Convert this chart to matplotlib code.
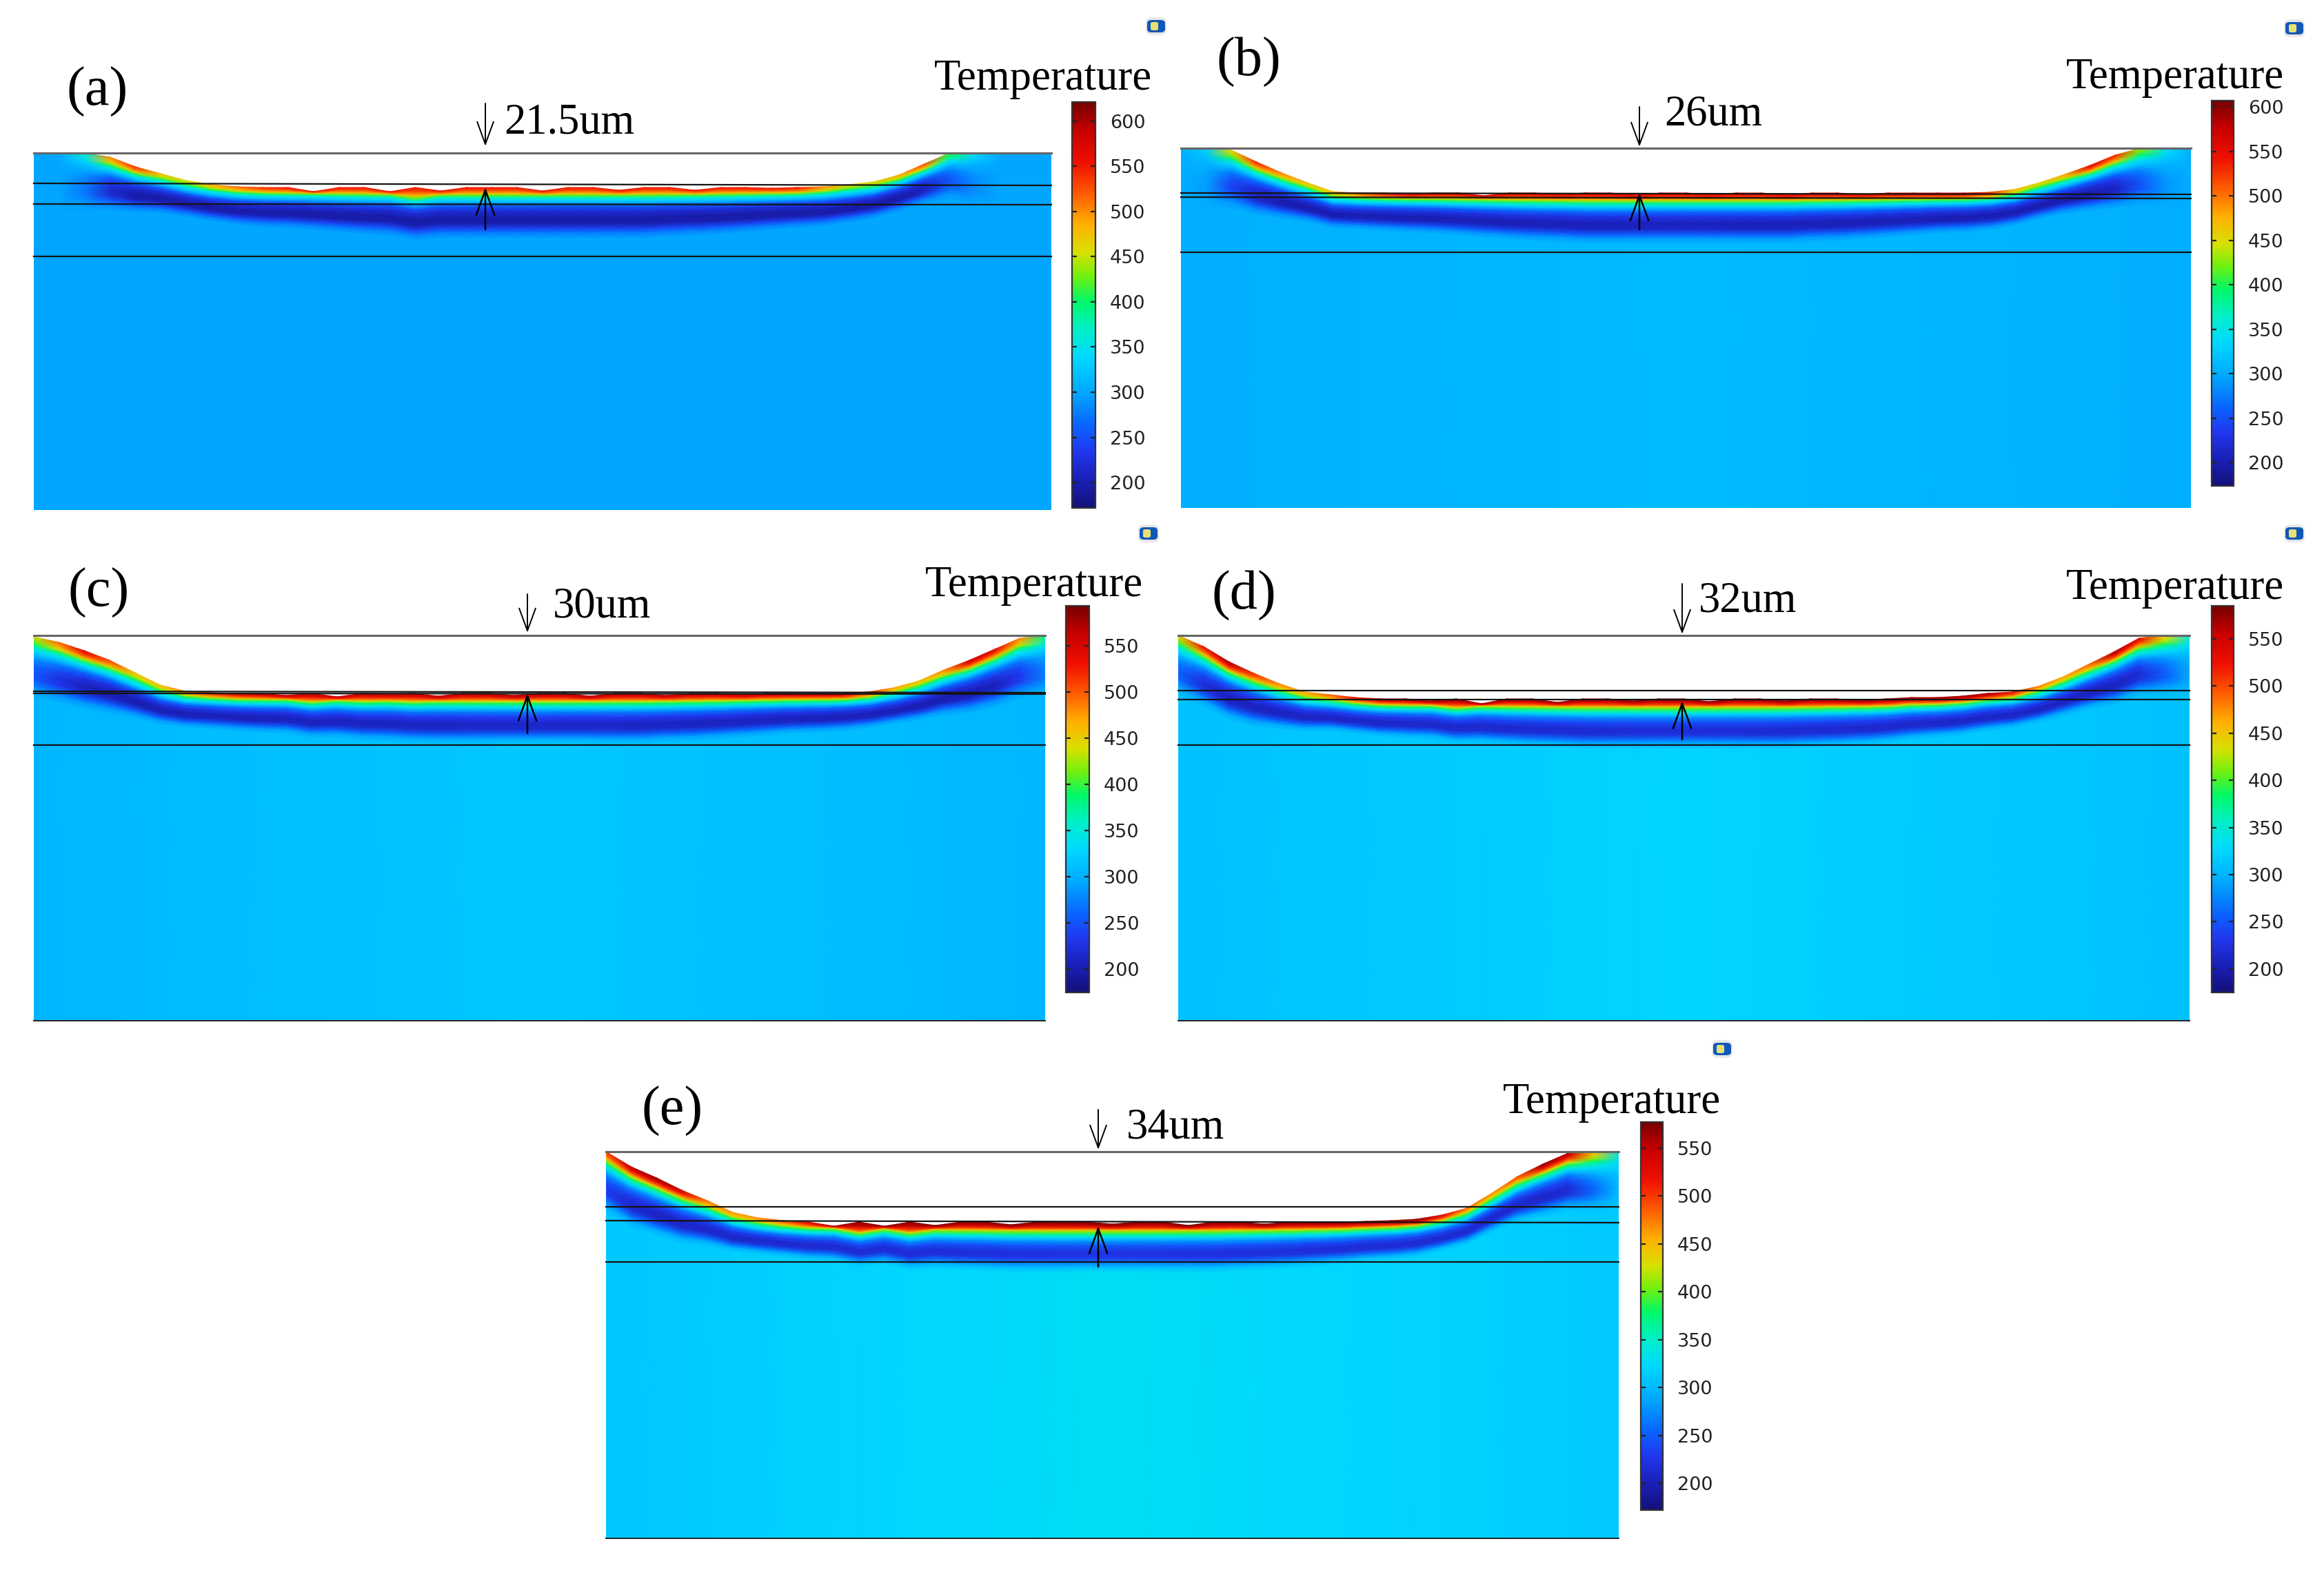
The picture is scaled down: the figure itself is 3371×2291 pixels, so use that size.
import numpy as np
import matplotlib
matplotlib.use("Agg")
import matplotlib.pyplot as plt
from matplotlib.colors import LinearSegmentedColormap, Normalize
from matplotlib.patches import FancyArrowPatch, FancyBboxPatch

W, H = 3371, 2291
plt.rcParams["font.family"] = ["Liberation Serif", "DejaVu Serif"]

# ===============================
#  Data
# ===============================

# columns across each domain, as a fraction of its width
COL_X = [i / 40 for i in range(41)]

# melted surface, depth below the top line in each column
SURF_A = [0, 0, 0, 6, 20, 30, 40, 46, 49, 50, 50, 56, 50, 50, 56, 50, 55, 50, 50, 50, 55,
          50, 50, 54, 50, 50, 54, 50, 50, 51, 50, 49, 46, 42, 32, 16, 0, 0, 0, 0, 0]
SURF_B = [0, 0, 3, 20, 36, 50, 63, 65, 65, 67, 65, 65, 69, 65, 65, 67, 65, 65, 68, 65, 65,
          67, 65, 65, 68, 65, 65, 67, 65, 65, 65, 65, 64, 60, 50, 38, 25, 10, 0, 0, 0]
SURF_C = [2, 10, 22, 36, 54, 72, 81, 83, 84, 84, 87, 84, 89, 84, 85, 84, 88, 84, 84, 87, 84,
          84, 88, 84, 84, 87, 84, 84, 86, 84, 84, 84, 84, 82, 76, 66, 50, 36, 20, 4, 0]
SURF_D = [0, 16, 38, 55, 70, 82, 86, 90, 92, 92, 95, 92, 99, 92, 92, 97, 92, 92, 95, 92, 92,
          96, 92, 92, 95, 92, 92, 94, 92, 90, 90, 88, 84, 82, 74, 60, 42, 24, 4, 0, 0]
SURF_E = [0, 22, 38, 56, 71, 88, 96, 100, 102, 108, 102, 108, 102, 107, 102, 102, 106, 102, 102, 102, 105,
          102, 102, 107, 102, 102, 105, 102, 102, 102, 101, 100, 98, 92, 82, 60, 36, 18, 2, 0, 0]

# temperature through the hot band, by depth below the surface
BAND_DEPTH = [0, 5, 9, 12, 15, 19, 23, 28, 35, 44, 52, 60, 66, 74, 700]
BAND_TEMP = [552, 522, 475, 420, 375, 335, 295, 252, 218, 195, 200, 245, 278, 300, 300]

# band thickness in each column, thin on the slopes, full in the middle
THICK = [1.2, 1.2, 1.15, 1.05, 0.9, 0.78, 0.72, 0.72, 0.75, 0.78, 0.8, 0.84, 0.88, 0.92, 0.95, 0.97, 1, 1, 1, 1, 1,
         1, 1, 1, 1, 0.97, 0.95, 0.92, 0.88, 0.84, 0.8, 0.78, 0.75, 0.72, 0.72, 0.78, 0.9, 1.05, 1.15, 1.2, 1.2]

# how strongly the band shows in the outermost columns
FADE_LEFT_A = [0, 0, 0.25, 0.8, 1, 1]
FADE_RIGHT_A = [0.9, 0.45, 0.15, 0, 0, 0]
FADE_LEFT_B = [0, 0.1, 0.6, 0.9, 1, 1]
FADE_RIGHT_B = [1, 1, 0.9, 0.5, 0.15, 0]
FADE_LEFT_C = [0.5, 0.75, 0.95, 1, 1, 1]
FADE_RIGHT_C = [1, 1, 1, 0.95, 0.7, 0.3]
FADE_LEFT_D = [0.5, 0.85, 1, 1, 1, 1]
FADE_RIGHT_D = [1, 1, 1, 0.9, 0.55, 0.15]
FADE_LEFT_E = [0.75, 0.95, 1, 1, 1, 1]
FADE_RIGHT_E = [1, 1, 1, 0.95, 0.55, 0.1]

# how hot the surface gets along the slopes (first and last ten columns)
HOT_LEFT_A = [1, 1, 1, 1, 0.95, 0.7, 0.62, 0.75, 0.85, 0.95]
HOT_RIGHT_A = [0.8, 0.65, 0.65, 0.75, 1, 1, 1, 1, 1, 1]
HOT_LEFT_B = [1, 1, 1, 1, 0.75, 0.65, 0.65, 0.8, 0.95, 1]
HOT_RIGHT_B = [1, 0.9, 0.65, 0.6, 0.7, 1, 1, 1, 1, 1]
HOT_LEFT_C = [1, 1, 1, 0.8, 0.6, 0.6, 0.7, 0.85, 0.95, 1]
HOT_RIGHT_C = [1, 1, 0.85, 0.65, 0.6, 0.7, 1, 1, 1, 1]
HOT_LEFT_D = [1, 1, 1, 0.8, 0.65, 0.6, 0.7, 0.85, 0.95, 1]
HOT_RIGHT_D = [1, 1, 0.85, 0.65, 0.6, 0.7, 1, 1, 1, 1]
HOT_LEFT_E = [1, 1, 1, 0.9, 0.65, 0.6, 0.6, 0.7, 0.85, 0.95]
HOT_RIGHT_E = [1, 1, 0.85, 0.65, 0.6, 0.7, 1, 1, 1, 1]

# far-field temperature at left, middle, right
BG_A = [300, 300, 300]
BG_B = [303, 312, 303]
BG_C = [305, 318, 305]
BG_D = [310, 325, 310]
BG_E = [310, 328, 312]

# layer lines, depth at left and right end
LINES_A = [(44, 47), (74, 75), (150, 150)]
LINES_B = [(65, 67), (71, 73), (151, 151)]
LINES_C = [(81, 83), (84, 85), (159, 159)]
LINES_D = [(80, 80), (93, 93), (159, 159)]
LINES_E = [(80, 80), (100, 103), (160, 160)]

TICKS_600 = [200, 250, 300, 350, 400, 450, 500, 550, 600]
TICKS_550 = [200, 250, 300, 350, 400, 450, 500, 550]

PANELS = [
    dict(label="(a)", width_text="21.5um", surf=SURF_A, fade=(FADE_LEFT_A, FADE_RIGHT_A), hot=(HOT_LEFT_A, HOT_RIGHT_A),
         bg=BG_A, lines=LINES_A, ticks=TICKS_600, vmin=172, vmax=621, box=(49, 222, 1525, 740),
         cbar=(1555, 148, 1589, 737), label_xy=(97, 133), temp_xy=(1671, 115), width_xy=(731, 178),
         arrow_x=704, down=(150, 212), up=(333, 272), icon=(1677, 38), bottom=False),
    dict(label="(b)", width_text="26um", surf=SURF_B, fade=(FADE_LEFT_B, FADE_RIGHT_B), hot=(HOT_LEFT_B, HOT_RIGHT_B),
         bg=BG_B, lines=LINES_B, ticks=TICKS_600, vmin=174, vmax=607, box=(1713, 215, 3178, 737),
         cbar=(3208, 146, 3240, 705), label_xy=(1765, 90), temp_xy=(3313, 113), width_xy=(2414, 167),
         arrow_x=2378, down=(155, 213), up=(333, 280), icon=(3328, 41), bottom=False),
    dict(label="(c)", width_text="30um", surf=SURF_C, fade=(FADE_LEFT_C, FADE_RIGHT_C), hot=(HOT_LEFT_C, HOT_RIGHT_C),
         bg=BG_C, lines=LINES_C, ticks=TICKS_550, vmin=175, vmax=593, box=(49, 922, 1516, 1481),
         cbar=(1546, 879, 1580, 1440), label_xy=(99, 860), temp_xy=(1658, 850), width_xy=(802, 881),
         arrow_x=765, down=(862, 918), up=(1064, 1006), icon=(1666, 774), bottom=True),
    dict(label="(d)", width_text="32um", surf=SURF_D, fade=(FADE_LEFT_D, FADE_RIGHT_D), hot=(HOT_LEFT_D, HOT_RIGHT_D),
         bg=BG_D, lines=LINES_D, ticks=TICKS_550, vmin=175, vmax=585, box=(1709, 922, 3176, 1481),
         cbar=(3208, 879, 3240, 1440), label_xy=(1757, 864), temp_xy=(3313, 854), width_xy=(2464, 872),
         arrow_x=2440, down=(847, 920), up=(1073, 1017), icon=(3328, 774), bottom=True),
    dict(label="(e)", width_text="34um", surf=SURF_E, fade=(FADE_LEFT_E, FADE_RIGHT_E), hot=(HOT_LEFT_E, HOT_RIGHT_E),
         bg=BG_E, lines=LINES_E, ticks=TICKS_550, vmin=172, vmax=577, box=(879, 1671, 2348, 2232),
         cbar=(2380, 1628, 2412, 2191), label_xy=(931, 1612), temp_xy=(2496, 1600), width_xy=(1634, 1636),
         arrow_x=1593, down=(1610, 1668), up=(1838, 1779), icon=(2498, 1522), bottom=True),
]

RAINBOW = LinearSegmentedColormap.from_list("rainbow_fem", [
    (0.00, "#14107a"), (0.07, "#1a20b8"), (0.14, "#2038f0"), (0.20, "#0a62ff"),
    (0.285, "#00a8ff"), (0.37, "#00d8ff"), (0.44, "#00f0c8"), (0.51, "#00f868"),
    (0.57, "#70f010"), (0.63, "#d8e000"), (0.70, "#ffb000"), (0.77, "#ff6000"),
    (0.85, "#f01000"), (0.93, "#c80000"), (1.00, "#780000"),
])


# ===============================
#  Helpers
# ===============================

def px_rect(box):
    x0, y0, x1, y1 = box
    return [x0 / W, 1 - y1 / H, (x1 - x0) / W, (y1 - y0) / H]


def fig_xy(x, y):
    return x / W, 1 - y / H


def floor_without_notches(surf):
    # the white notches only touch the top of the band, not the cold layer under it
    floor = surf.copy()
    for i in range(1, len(surf) - 1):
        floor[i] = np.median(surf[i - 1:i + 2])
    return floor


def draw_field(ax, panel):
    x0, y0, x1, y1 = panel["box"]
    col_x = np.array(COL_X)
    surf = np.array(panel["surf"], dtype=float)
    thick = np.array(THICK)
    depth = np.array(BAND_DEPTH, dtype=float)
    temp = np.array(BAND_TEMP, dtype=float)

    fade = np.ones(len(col_x))
    left, right = panel["fade"]
    fade[:len(left)] = left
    fade[-len(right):] = right
    hot = np.ones(len(col_x))
    left, right = panel["hot"]
    hot[:len(left)] = left
    hot[-len(right):] = right
    bg = np.interp(col_x, [0, 0.5, 1], panel["bg"])

    floor = floor_without_notches(surf)
    notch_weight = np.clip(1 - depth / 12, 0, 1)

    X = np.tile(col_x, (len(depth), 1))
    Y = floor[None, :] + notch_weight[:, None] * (surf - floor)[None, :] + depth[:, None] * thick[None, :]
    rise = temp[:, None] - 300
    rise = np.where(rise > 0, rise * hot[None, :], rise)
    T = bg[None, :] + fade[None, :] * rise

    norm = Normalize(panel["vmin"], panel["vmax"])
    mesh = ax.pcolormesh(X, Y, T, cmap=RAINBOW, norm=norm, shading="gouraud")
    ax.set_xlim(0, 1)
    ax.set_ylim(y1 - y0, 0)
    ax.axis("off")

    # layer lines
    ax.plot([0, 1], [0, 0], color="#666666", lw=2.2, clip_on=False)
    for d0, d1 in panel["lines"]:
        ax.plot([0, 1], [d0, d1], color="#141414", lw=1.6, clip_on=False)
    if panel["bottom"]:
        ax.plot([0, 1], [y1 - y0, y1 - y0], color="#222222", lw=1.4, clip_on=False)
    return mesh


def draw_colorbar(fig, panel, mesh):
    cax = fig.add_axes(px_rect(panel["cbar"]))
    cb = fig.colorbar(mesh, cax=cax, ticks=panel["ticks"])
    cb.outline.set_edgecolor("#333333")
    cb.outline.set_linewidth(1.6)
    cax.tick_params(axis="y", direction="in", left=True, right=True, length=5, width=1.6,
                    color="#222222", pad=15, labelsize=19.5, labelcolor="#222222")
    for lab in cax.get_yticklabels():
        lab.set_family("DejaVu Sans")


def draw_arrow(fig, x, y_start, y_end, lw, scale):
    arrow = FancyArrowPatch(fig_xy(x, y_start), fig_xy(x, y_end), transform=fig.transFigure,
                            arrowstyle=f"->,head_length={26 * scale},head_width={9.5 * scale}",
                            mutation_scale=1, lw=lw, color="black", shrinkA=0, shrinkB=0)
    fig.add_artist(arrow)


def draw_icon(fig, x, y):
    halo = FancyBboxPatch(fig_xy(x - 15, y + 13), 30 / W, 26 / H, transform=fig.transFigure,
                          boxstyle="round,pad=0,rounding_size=0.003", fc="#e8e8e8", ec="none")
    body = FancyBboxPatch(fig_xy(x - 13, y + 9), 26 / W, 18 / H, transform=fig.transFigure,
                          boxstyle="round,pad=0,rounding_size=0.002", fc="#1058b8", ec="none")
    glow = FancyBboxPatch(fig_xy(x - 8, y + 6), 11 / W, 12 / H, transform=fig.transFigure,
                          boxstyle="round,pad=0,rounding_size=0.001", fc="#e8e070", ec="none")
    fig.add_artist(halo)
    fig.add_artist(body)
    fig.add_artist(glow)


def draw_panel(fig, panel):
    ax = fig.add_axes(px_rect(panel["box"]))
    mesh = draw_field(ax, panel)
    draw_colorbar(fig, panel, mesh)

    fig.text(*fig_xy(*panel["label_xy"]), panel["label"], fontsize=58, ha="left", va="center")
    fig.text(*fig_xy(*panel["temp_xy"]), "Temperature", fontsize=45.2, ha="right", va="center")
    fig.text(*fig_xy(*panel["width_xy"]), panel["width_text"], fontsize=45, ha="left", va="center")

    draw_arrow(fig, panel["arrow_x"], panel["down"][0], panel["down"][1], 1.4, 0.9)
    draw_arrow(fig, panel["arrow_x"], panel["up"][0], panel["up"][1], 1.8, 1.0)
    draw_icon(fig, *panel["icon"])


def main():
    fig = plt.figure(figsize=(W / 100, H / 100), dpi=100, facecolor="white")
    for panel in PANELS:
        draw_panel(fig, panel)
    fig.savefig("out.png", dpi=100)
    plt.close(fig)


if __name__ == "__main__":
    main()
